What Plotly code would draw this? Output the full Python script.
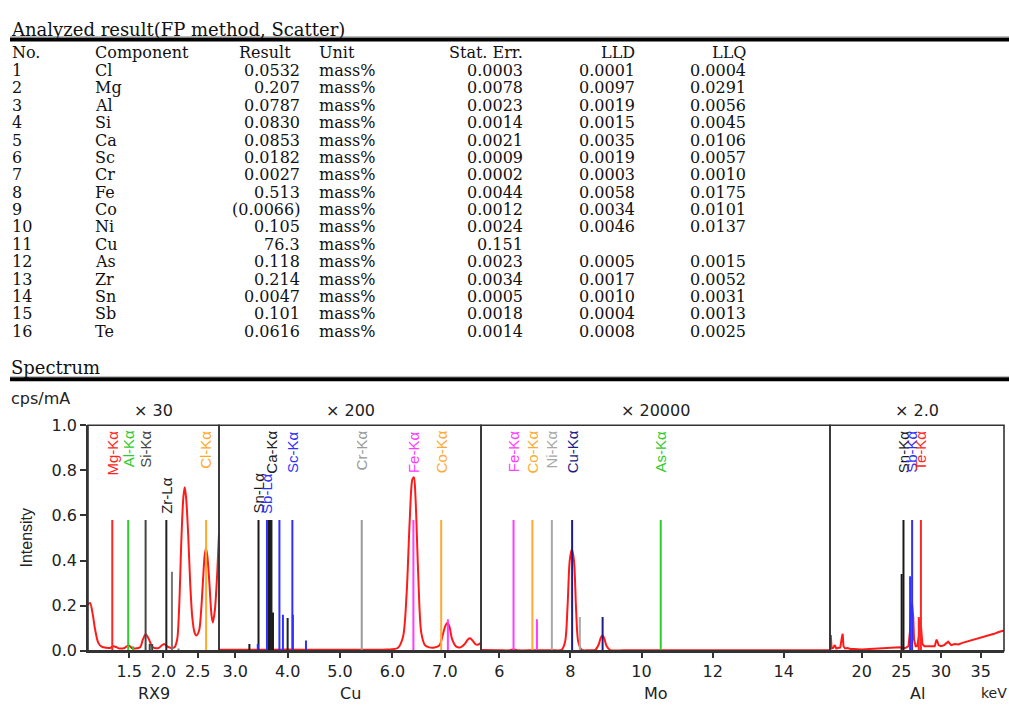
import plotly.graph_objects as go

W, H = 1009, 713

# ---------------- analyzed result table ----------------
comp_no = [str(i) for i in range(1, 17)]
components = ["Cl", "Mg", "Al", "Si", "Ca", "Sc", "Cr", "Fe", "Co", "Ni",
              "Cu", "As", "Zr", "Sn", "Sb", "Te"]
results = ["0.0532", "0.207", "0.0787", "0.0830", "0.0853", "0.0182", "0.0027",
           "0.513", "(0.0066)", "0.105", "76.3", "0.118", "0.214", "0.0047",
           "0.101", "0.0616"]
units = ["mass%"] * 16
stat_err = ["0.0003", "0.0078", "0.0023", "0.0014", "0.0021", "0.0009", "0.0002",
            "0.0044", "0.0012", "0.0024", "0.151", "0.0023", "0.0034", "0.0005",
            "0.0018", "0.0014"]
lld = ["0.0001", "0.0097", "0.0019", "0.0015", "0.0035", "0.0019", "0.0003",
       "0.0058", "0.0034", "0.0046", "", "0.0005", "0.0017", "0.0010",
       "0.0004", "0.0008"]
llq = ["0.0004", "0.0291", "0.0056", "0.0045", "0.0106", "0.0057", "0.0010",
       "0.0175", "0.0101", "0.0137", "", "0.0015", "0.0052", "0.0031",
       "0.0013", "0.0025"]

# ---------------- spectrum (keV, intensity) per panel ----------------
rx9_kev = [0.90, 0.93, 0.97, 1.00, 1.05, 1.10, 1.17, 1.22, 1.27, 1.32, 1.36, 1.43,
           1.49, 1.54, 1.59, 1.66, 1.70, 1.74, 1.79, 1.83, 1.87, 1.93, 1.97, 2.01,
           2.06, 2.11, 2.16, 2.20, 2.23, 2.26, 2.29, 2.31, 2.33, 2.36, 2.39, 2.42,
           2.45, 2.48, 2.52, 2.55, 2.58, 2.60, 2.62, 2.64, 2.67, 2.70, 2.72, 2.75,
           2.78, 2.81]
rx9_int = [0.205, 0.212, 0.16, 0.10, 0.035, 0.018, 0.013, 0.012, 0.02, 0.015, 0.01,
           0.012, 0.024, 0.012, 0.01, 0.015, 0.05, 0.073, 0.05, 0.02, 0.012, 0.012,
           0.022, 0.03, 0.018, 0.012, 0.015, 0.05, 0.2, 0.48, 0.68, 0.725, 0.68,
           0.52, 0.3, 0.15, 0.085, 0.068, 0.09, 0.18, 0.33, 0.42, 0.455, 0.42, 0.3,
           0.16, 0.125, 0.18, 0.32, 0.52]

cu_kev = [2.69, 3.0, 3.5, 4.0, 4.5, 5.0, 5.5, 5.9, 6.10, 6.20, 6.27, 6.33, 6.38,
          6.41, 6.44, 6.49, 6.55, 6.62, 6.70, 6.80, 6.90, 6.96, 7.01, 7.05, 7.09,
          7.14, 7.22, 7.30, 7.38, 7.44, 7.48, 7.53, 7.59, 7.64, 7.69]
cu_int = [0.004, 0.004, 0.004, 0.005, 0.004, 0.004, 0.004, 0.005, 0.012, 0.06,
          0.25, 0.58, 0.76, 0.77, 0.68, 0.35, 0.08, 0.025, 0.015, 0.014, 0.025,
          0.07, 0.11, 0.124, 0.105, 0.05, 0.018, 0.015, 0.03, 0.05, 0.055, 0.045,
          0.028, 0.028, 0.035]

mo_kev = [5.49, 6.0, 6.3, 6.4, 6.5, 7.0, 7.5, 7.75, 7.85, 7.92, 7.98, 8.04, 8.10,
          8.16, 8.22, 8.32, 8.5, 8.70, 8.80, 8.86, 8.91, 8.96, 9.02, 9.12, 9.5,
          10.5, 12.0, 14.0, 15.3]
mo_int = [0.003, 0.002, 0.002, 0.006, 0.002, 0.002, 0.002, 0.004, 0.04, 0.20, 0.40,
          0.45, 0.40, 0.18, 0.04, 0.004, 0.002, 0.004, 0.03, 0.06, 0.068, 0.05,
          0.02, 0.003, 0.002, 0.002, 0.002, 0.002, 0.002]

al_kev = [16.0, 16.1, 16.2, 16.4, 16.6, 16.8, 17.0, 17.3, 17.5, 17.6, 17.7, 17.9,
          18.2, 18.6, 19.0, 20.0, 21.0, 22.0, 23.0, 24.0, 24.8, 25.2, 25.5, 25.9,
          26.1, 26.2, 26.35, 26.5, 26.6, 26.8, 27.0, 27.2, 27.35, 27.5, 27.65,
          27.9, 28.3, 28.8, 29.2, 29.45, 29.7, 30.0, 30.4, 30.9, 31.3, 31.7, 32.2,
          32.7, 33.2, 33.7, 34.2, 34.7, 35.2, 35.7, 36.2, 36.7, 37.2, 37.6, 37.95]
al_int = [0.01, 0.07, 0.01, 0.012, 0.025, 0.01, 0.012, 0.015, 0.06, 0.075, 0.02,
          0.01, 0.012, 0.008, 0.008, 0.006, 0.008, 0.009, 0.01, 0.012, 0.015,
          0.012, 0.012, 0.02, 0.09, 0.17, 0.21, 0.15, 0.05, 0.02, 0.02, 0.06,
          0.14, 0.1, 0.03, 0.02, 0.02, 0.018, 0.02, 0.05, 0.025, 0.02, 0.025,
          0.04, 0.025, 0.03, 0.028, 0.035, 0.04, 0.045, 0.048, 0.055, 0.06,
          0.065, 0.07, 0.075, 0.082, 0.085, 0.09]

# ---------------- element marker lines per panel ----------------
rx9_line_kev = [1.254, 1.486, 1.740, 2.042, 2.124, 2.622, 1.557, 1.80, 1.836, 2.22]
rx9_line_int = [0.58, 0.58, 0.58, 0.58, 0.35, 0.58, 0.02, 0.03, 0.03, 0.01]
rx9_line_elem = ["Mg", "Al", "Si", "Zr", "ZrB", "Cl", "Al", "Si", "Si", "ZrB"]

cu_line_kev = [3.444, 3.605, 3.64, 3.663, 3.691, 3.843, 4.090, 3.27, 3.43, 3.72,
               3.91, 4.00, 4.10, 4.35, 5.414, 6.40, 6.93, 7.058]
cu_line_int = [0.58, 0.58, 0.58, 0.58, 0.58, 0.58, 0.58, 0.03, 0.03, 0.17,
               0.16, 0.145, 0.16, 0.045, 0.58, 0.58, 0.58, 0.14]
cu_line_elem = ["Sn", "Sb", "Sn", "Sn", "Ca", "Sb", "Sc", "Sn", "Sb", "Sn",
                "Sb", "Ca", "Sb", "Sb", "Cr", "Fe", "Co", "Fe"]

mo_line_kev = [6.40, 6.93, 7.478, 8.048, 10.54, 7.058, 8.265, 8.905]
mo_line_int = [0.58, 0.58, 0.58, 0.58, 0.58, 0.14, 0.15, 0.15]
mo_line_elem = ["Fe", "Co", "Ni", "Cu", "As", "Fe", "Ni", "Cu"]

al_line_kev = [25.04, 25.27, 26.11, 26.36, 27.20, 27.47]
al_line_int = [0.34, 0.58, 0.33, 0.58, 0.15, 0.58]
al_line_elem = ["Sn", "Sn", "Sb", "Sb", "Te", "Te"]

# element labels (name, keV)
rx9_labels = [("Mg-Kα", 1.254), ("Al-Kα", 1.486), ("Si-Kα", 1.740),
              ("Zr-Lα", 2.042), ("Cl-Kα", 2.622)]
cu_labels = [("Sn-Lα", 3.444), ("Sb-Lα", 3.605), ("Ca-Kα", 3.691),
             ("Sc-Kα", 4.090), ("Cr-Kα", 5.414), ("Fe-Kα", 6.40), ("Co-Kα", 6.93)]
mo_labels = [("Fe-Kα", 6.40), ("Co-Kα", 6.93), ("Ni-Kα", 7.478),
             ("Cu-Kα", 8.048), ("As-Kα", 10.54)]
al_labels = [("Sn-Kα", 25.27), ("Sb-Kα", 26.36), ("Te-Kα", 27.47)]

panel_names = ["RX9", "Cu", "Mo", "Al"]
panel_gain = ["× 30", "× 200", "× 20000", "× 2.0"]
panel_range = [[0.9, 2.81], [2.69, 7.69], [5.485, 15.3], [16.0, 37.95]]
panel_ticks = [[1.5, 2.0, 2.5], [3, 4, 5, 6, 7], [6, 8, 10, 12, 14], [20, 25, 30, 35]]
panel_ticktext = [["1.5", "2.0", "2.5"], ["3.0", "4.0", "5.0", "6.0", "7.0"],
                  ["6", "8", "10", "12", "14"], ["20", "25", "30", "35"]]

elem_color = {
    "Mg": "#ff2626", "Al": "#2fcc2f", "Si": "#444444", "Zr": "#222222",
    "ZrB": "#777777", "Cl": "#ffaa2a", "Sn": "#1a1a1a", "Sb": "#3030ff",
    "Ca": "#222222", "Sc": "#3030ff", "Cr": "#9a9a9a", "Fe": "#ff3cff",
    "Co": "#ffaa33", "Ni": "#a8a8a8", "Cu": "#1c1c8a", "As": "#2fcc2f",
    "Te": "#ff2626",
}
low_labels = {"Zr-Lα", "Sn-Lα", "Sb-Lα"}

spectra = [(rx9_kev, rx9_int), (cu_kev, cu_int), (mo_kev, mo_int), (al_kev, al_int)]
lines = [(rx9_line_kev, rx9_line_int, rx9_line_elem),
         (cu_line_kev, cu_line_int, cu_line_elem),
         (mo_line_kev, mo_line_int, mo_line_elem),
         (al_line_kev, al_line_int, al_line_elem)]
labels = [rx9_labels, cu_labels, mo_labels, al_labels]


def px(x):
    return x / W


def py(y):
    return 1 - y / H


# pixel frame of the spectrum plot
panel_x = [88, 219, 481, 830, 1004]
plot_top, plot_bot = 427.7, 659.3

serif = "DejaVu Serif"
sans = "DejaVu Sans"
arial = "Liberation Sans"

fig = go.Figure()
annotations = []
shapes = []

for i in range(4):
    xa = "x" if i == 0 else f"x{i + 1}"
    kev, inten = spectra[i]
    fig.add_trace(go.Scatter(
        x=kev, y=inten, xaxis=xa, yaxis="y", mode="lines",
        line=dict(color="#ff1a1a", width=2,
                  shape="linear" if i == 3 else "spline", smoothing=0.8),
        hoverinfo="skip", showlegend=False,
    ))
    # element lines grouped by colour
    lk, li, le = lines[i]
    for el in dict.fromkeys(le):
        xs, ys = [], []
        for k, h, e in zip(lk, li, le):
            if e == el:
                xs += [k, k, None]
                ys += [0, h, None]
        fig.add_trace(go.Scatter(
            x=xs, y=ys, xaxis=xa, yaxis="y", mode="lines",
            line=dict(color=elem_color[el], width=2),
            hoverinfo="skip", showlegend=False,
        ))
    for name, k in labels[i]:
        el = name.split("-")[0]
        low = name in low_labels
        annotations.append(dict(
            x=k, y=0.6 if low else 0.985, xref=xa, yref="y",
            text=name, textangle=-90, showarrow=False,
            xanchor="center", yanchor="bottom" if low else "top",
            font=dict(family=arial, size=15, color=elem_color[el]),
        ))
    # panel box
    shapes.append(dict(
        type="rect", xref=f"{xa} domain", yref="y domain",
        x0=0, x1=1, y0=0, y1=1, line=dict(color="#333333", width=1.6),
    ))
    cx = (panel_x[i] + panel_x[i + 1]) / 2
    annotations.append(dict(
        x=px(cx), y=py(413), xref="paper", yref="paper", text=panel_gain[i],
        showarrow=False, xanchor="center", yanchor="middle",
        font=dict(family=sans, size=16, color="#222222"),
    ))
    annotations.append(dict(
        x=px(cx), y=py(703), xref="paper", yref="paper", text=panel_names[i],
        showarrow=False, xanchor="center", yanchor="middle",
        font=dict(family=sans, size=16, color="#222222"),
    ))

axis_common = dict(
    showgrid=False, zeroline=False, showline=True, linecolor="#333333",
    linewidth=1.6, ticks="outside", ticklen=5, tickcolor="#333333",
    tickwidth=1.5, tickfont=dict(family=sans, size=16, color="#222222"),
)
layout_axes = {}
for i in range(4):
    key = "xaxis" if i == 0 else f"xaxis{i + 1}"
    layout_axes[key] = dict(
        axis_common, domain=[px(panel_x[i]), px(panel_x[i + 1])],
        range=panel_range[i], tickvals=panel_ticks[i], ticktext=panel_ticktext[i],
        anchor="y",
    )
layout_axes["yaxis"] = dict(
    axis_common, domain=[py(plot_bot), py(plot_top)], range=[0, 1.0],
    tickvals=[0, 0.2, 0.4, 0.6, 0.8, 1.0], tickformat=".1f", ticklen=6,
    anchor="x",
)

# y title, unit and keV
annotations.append(dict(
    x=px(27), y=py(543), xref="paper", yref="paper", text="Intensity",
    textangle=-90, showarrow=False, xanchor="center", yanchor="middle",
    font=dict(family=arial, size=16, color="#222222"),
))
annotations.append(dict(
    x=px(9), y=py(400), xref="paper", yref="paper", text="cps/mA",
    showarrow=False, xanchor="left", yanchor="middle",
    font=dict(family=sans, size=16, color="#222222"),
))
annotations.append(dict(
    x=1.0, y=py(703), xref="paper", yref="paper", text="keV",
    showarrow=False, xanchor="right", yanchor="middle",
    font=dict(family=sans, size=14, color="#222222"),
))

# ---------------- table text ----------------
annotations.append(dict(
    x=px(9), y=py(21), xref="paper", yref="paper",
    text="Analyzed result(FP method, Scatter)", showarrow=False,
    xanchor="left", yanchor="middle", font=dict(family=serif, size=18, color="#111111"),
))
annotations.append(dict(
    x=px(9), y=py(368), xref="paper", yref="paper", text="Spectrum",
    showarrow=False, xanchor="left", yanchor="middle",
    font=dict(family=serif, size=18, color="#111111"),
))
for yline in (31.3, 380.5):
    shapes.append(dict(
        type="line", xref="paper", yref="paper", x0=px(10), x1=1.0,
        y0=py(yline), y1=py(yline), line=dict(color="#000000", width=4),
    ))
    shapes.append(dict(
        type="line", xref="paper", yref="paper", x0=px(10), x1=1.0,
        y0=py(yline - 3), y1=py(yline - 3), line=dict(color="#bbbbbb", width=1),
    ))

header = [("No.", 10, "left"), ("Component", 93, "left"), ("Result", 237, "left"),
          ("Unit", 317, "left"), ("Stat. Err.", 525, "right"), ("LLD", 637, "right"),
          ("LLQ", 748, "right")]
columns = [(comp_no, 10, "left"), (components, 93, "left"), (results, 302, "right"),
           (units, 317, "left"), (stat_err, 525, "right"), (lld, 637, "right"),
           (llq, 748, "right")]
tfont = dict(family=serif, size=16, color="#111111")
for text, x, anchor in header:
    annotations.append(dict(
        x=px(x), y=py(45), xref="paper", yref="paper", text=text,
        showarrow=False, xanchor=anchor, yanchor="middle", font=tfont,
    ))
for values, x, anchor in columns:
    for r, v in enumerate(values):
        if not v:
            continue
        annotations.append(dict(
            x=px(x), y=py(63.3 + 17.85 * r), xref="paper", yref="paper", text=v,
            showarrow=False, xanchor=anchor, yanchor="middle", font=tfont,
        ))

fig.update_layout(
    width=W, height=H, margin=dict(l=0, r=0, t=0, b=0),
    paper_bgcolor="white", plot_bgcolor="white", showlegend=False,
    annotations=annotations, shapes=shapes, **layout_axes,
)

# drop the default page margin so the figure sits at the window's corner
fig.write_html(
    "out.html",
    config={"displayModeBar": False},
    post_script="document.body.style.margin='0';document.body.style.overflow='hidden';",
)
